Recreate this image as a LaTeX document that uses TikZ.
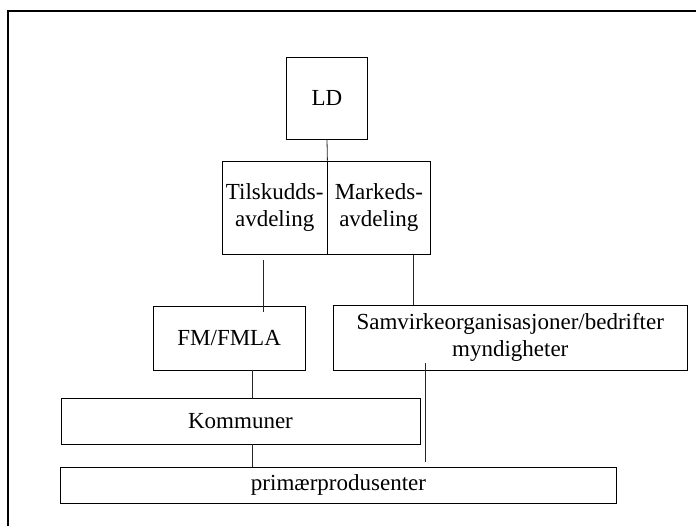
\documentclass[tikz,border=0pt]{standalone}
\usepackage{fontspec}
\setmainfont{Liberation Serif}
\begin{document}
\begin{tikzpicture}[x=1pt,y=-1pt,
  box/.style={draw=black,line width=0.8pt,inner sep=0pt,align=center,
    font=\fontsize{23}{26.5}\selectfont},
  link/.style={draw=black!85,line width=0.8pt},
  frameline/.style={draw=black,line width=1.8pt}]
\useasboundingbox (0,0) rectangle (696,526);
% frame (top and left edges visible)
\draw[frameline] (696,11) -- (7.7,11) -- (7.7,526);
% boxes
\node[box,minimum width=81pt,minimum height=82pt] (ld) at (327,98) {LD};
\node[box,minimum width=104.7pt,minimum height=93pt] (tilsk) at (274.65,207.5) {Tilskudds-\\avdeling};
\node[box,minimum width=103.7pt,minimum height=93pt] (marked) at (378.85,207.5) {Markeds-\\avdeling};
\node[box,minimum width=151.7pt,minimum height=64pt] (fm) at (229.15,338) {FM/FMLA};
\node[box,minimum width=353.5pt,minimum height=65pt] (samv) at (510.25,337.5) {Samvirkeorganisasjoner/bedrifter\\myndigheter};
\node[box,minimum width=359pt,minimum height=46pt] (komm) at (240.5,421) {Kommuner};
\node[box,minimum width=556pt,minimum height=36pt] (prim) at (338.5,485) {primærprodusenter};
% connectors
\draw[link] (ld.south) -- (tilsk.north east);
\coordinate (a1) at (263,260);
\coordinate (a2) at (263,312);
\draw[link] (a1) -- (a2);
\coordinate (b1) at (413,255);
\draw[link] (b1) -- (b1 |- samv.north);
\coordinate (c) at (252,0);
\draw[link] (c |- fm.south) -- (c |- komm.north);
\draw[link] (c |- komm.south) -- (c |- prim.north);
\coordinate (d1) at (425,363);
\coordinate (d2) at (425,462);
\draw[link] (d1) -- (d2);
\end{tikzpicture}
\end{document}
